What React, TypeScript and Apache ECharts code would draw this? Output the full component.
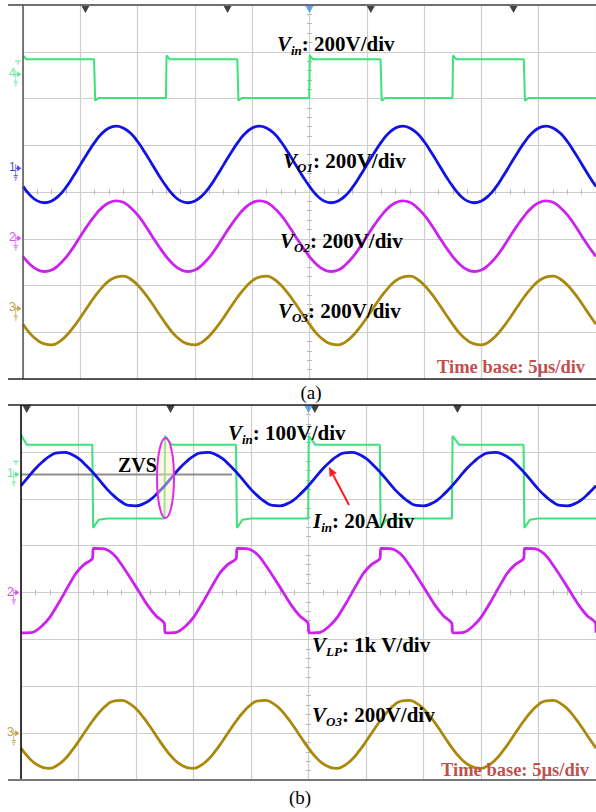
import React, { useEffect, useRef } from 'react';
import * as echarts from 'echarts';

// ---------- DATA (screen divisions: x -5..5, y -4..4) ----------
const T = [
  -5, -4.875, -4.75, -4.625, -4.5, -4.375, -4.25, -4.125, -4, -3.875, -3.75, -3.625, -3.5, -3.375, -3.25, -3.125,
  -3, -2.875, -2.75, -2.625, -2.5, -2.375, -2.25, -2.125, -2, -1.875, -1.75, -1.625, -1.5, -1.375, -1.25, -1.125,
  -1, -0.875, -0.75, -0.625, -0.5, -0.375, -0.25, -0.125, 0, 0.125, 0.25, 0.375, 0.5, 0.625, 0.75, 0.875,
  1, 1.125, 1.25, 1.375, 1.5, 1.625, 1.75, 1.875, 2, 2.125, 2.25, 2.375, 2.5, 2.625, 2.75, 2.875,
  3, 3.125, 3.25, 3.375, 3.5, 3.625, 3.75, 3.875, 4, 4.125, 4.25, 4.375, 4.5, 4.625, 4.75, 4.875, 5,
];

// panel (a)
const VIN_A = [
  [-5, 2.92], [-4.94, 2.84], [-3.76, 2.84], [-3.74, 1.95], [-3.68, 2.01], [-2.505, 2.01], [-2.495, 2.92], [-2.44, 2.84],
  [-1.26, 2.84], [-1.24, 1.95], [-1.18, 2.01], [-0.005, 2.01], [0.005, 2.92], [0.06, 2.84], [1.24, 2.84], [1.26, 1.95],
  [1.32, 2.01], [2.495, 2.01], [2.505, 2.92], [2.56, 2.84], [3.74, 2.84], [3.76, 1.95], [3.82, 2.01], [5, 2.01],
];
const VO1_A = [
  0.12, -0.07, -0.19, -0.23, -0.19, -0.08, 0.10, 0.33, 0.58, 0.83, 1.06, 1.25, 1.37, 1.41, 1.37, 1.26, 1.08, 0.85, 0.60, 0.35,
  0.12, -0.07, -0.19, -0.23, -0.19, -0.08, 0.10, 0.33, 0.58, 0.83, 1.06, 1.25, 1.37, 1.41, 1.37, 1.26, 1.08, 0.85, 0.60, 0.35,
  0.12, -0.07, -0.19, -0.23, -0.19, -0.08, 0.10, 0.33, 0.58, 0.83, 1.06, 1.25, 1.37, 1.41, 1.37, 1.26, 1.08, 0.85, 0.60, 0.35,
  0.12, -0.07, -0.19, -0.23, -0.19, -0.08, 0.10, 0.33, 0.58, 0.83, 1.06, 1.25, 1.37, 1.41, 1.37, 1.26, 1.08, 0.85, 0.60, 0.35,
  0.12,
];
const VO2_A = [
  -1.38, -1.55, -1.66, -1.70, -1.67, -1.56, -1.40, -1.19, -0.95, -0.72, -0.51, -0.34, -0.23, -0.19, -0.22, -0.33, -0.49, -0.70, -0.94, -1.17,
  -1.38, -1.55, -1.66, -1.70, -1.67, -1.56, -1.40, -1.19, -0.95, -0.72, -0.51, -0.34, -0.23, -0.19, -0.22, -0.33, -0.49, -0.70, -0.94, -1.17,
  -1.38, -1.55, -1.66, -1.70, -1.67, -1.56, -1.40, -1.19, -0.95, -0.72, -0.51, -0.34, -0.23, -0.19, -0.22, -0.33, -0.49, -0.70, -0.94, -1.17,
  -1.38, -1.55, -1.66, -1.70, -1.67, -1.56, -1.40, -1.19, -0.95, -0.72, -0.51, -0.34, -0.23, -0.19, -0.22, -0.33, -0.49, -0.70, -0.94, -1.17,
  -1.38,
];
const VO3_A = [
  -2.83, -3.03, -3.17, -3.25, -3.27, -3.21, -3.08, -2.90, -2.69, -2.46, -2.24, -2.05, -1.90, -1.82, -1.80, -1.86, -1.99, -2.17, -2.38, -2.61,
  -2.83, -3.03, -3.17, -3.25, -3.27, -3.21, -3.08, -2.90, -2.69, -2.46, -2.24, -2.05, -1.90, -1.82, -1.80, -1.86, -1.99, -2.17, -2.38, -2.61,
  -2.83, -3.03, -3.17, -3.25, -3.27, -3.21, -3.08, -2.90, -2.69, -2.46, -2.24, -2.05, -1.90, -1.82, -1.80, -1.86, -1.99, -2.17, -2.38, -2.61,
  -2.83, -3.03, -3.17, -3.25, -3.27, -3.21, -3.08, -2.90, -2.69, -2.46, -2.24, -2.05, -1.90, -1.82, -1.80, -1.86, -1.99, -2.17, -2.38, -2.61,
  -2.83,
];
const TRIG_A = [-3.91, -1.43, 1.07, 3.56];
const CH_A_NAMES = ['4', '1', '2', '3'];
const CH_A_LEVELS = [2.52, 0.51, -0.99, -2.49];

// panel (b)
const VIN_B = [
  [-5, 3.36], [-4.9, 3.15], [-3.76, 3.15], [-3.745, 1.38], [-3.65, 1.55], [-3.5, 1.58], [-2.505, 1.58], [-2.495, 3.34], [-2.38, 3.15],
  [-1.26, 3.15], [-1.245, 1.38], [-1.15, 1.55], [-1.0, 1.58], [-0.005, 1.58], [0.005, 3.34], [0.12, 3.15], [1.24, 3.15],
  [1.255, 1.38], [1.35, 1.55], [1.5, 1.58], [2.495, 1.58], [2.505, 3.34], [2.62, 3.15], [3.74, 3.15], [3.755, 1.38],
  [3.85, 1.55], [4.0, 1.58], [5, 1.58],
];
const REF_B = [[-5, 2.52], [-1.33, 2.52]];
const IIN_B = [
  2.28, 2.46, 2.64, 2.79, 2.91, 2.98, 2.99, 2.95, 2.86, 2.72, 2.56, 2.38, 2.20, 2.05, 1.93, 1.86, 1.85, 1.89, 1.98, 2.12,
  2.28, 2.46, 2.64, 2.79, 2.91, 2.98, 2.99, 2.95, 2.86, 2.72, 2.56, 2.38, 2.20, 2.05, 1.93, 1.86, 1.85, 1.89, 1.98, 2.12,
  2.28, 2.46, 2.64, 2.79, 2.91, 2.98, 2.99, 2.95, 2.86, 2.72, 2.56, 2.38, 2.20, 2.05, 1.93, 1.86, 1.85, 1.89, 1.98, 2.12,
  2.28, 2.46, 2.64, 2.79, 2.91, 2.98, 2.99, 2.95, 2.86, 2.72, 2.56, 2.38, 2.20, 2.05, 1.93, 1.86, 1.85, 1.89, 1.98, 2.12,
  2.28,
];
const VLP_B = [
  [-5.00, -0.86], [-4.80, -0.85], [-4.65, -0.73], [-4.50, -0.53], [-4.30, -0.13], [-4.05, 0.40], [-3.90, 0.60], [-3.76, 0.72], [-3.74, 0.94], [-3.55, 0.93], [-3.45, 0.87], [-3.35, 0.76], [-3.20, 0.50], [-3.00, 0.12], [-2.80, -0.27], [-2.65, -0.50], [-2.51, -0.65],
  [-2.49, -0.86], [-2.30, -0.85], [-2.15, -0.73], [-2.00, -0.53], [-1.80, -0.13], [-1.55, 0.40], [-1.40, 0.60], [-1.26, 0.72], [-1.24, 0.94], [-1.05, 0.93], [-0.95, 0.87], [-0.85, 0.76], [-0.70, 0.50], [-0.50, 0.12], [-0.30, -0.27], [-0.15, -0.50], [-0.01, -0.65],
  [0.01, -0.86], [0.20, -0.85], [0.35, -0.73], [0.50, -0.53], [0.70, -0.13], [0.95, 0.40], [1.10, 0.60], [1.24, 0.72], [1.26, 0.94], [1.45, 0.93], [1.55, 0.87], [1.65, 0.76], [1.80, 0.50], [2.00, 0.12], [2.20, -0.27], [2.35, -0.50], [2.49, -0.65],
  [2.51, -0.86], [2.70, -0.85], [2.85, -0.73], [3.00, -0.53], [3.20, -0.13], [3.45, 0.40], [3.60, 0.60], [3.74, 0.72], [3.76, 0.94], [3.95, 0.93], [4.05, 0.87], [4.15, 0.76], [4.30, 0.50], [4.50, 0.12], [4.70, -0.27], [4.85, -0.50], [4.99, -0.65], [5.00, -0.86],
];
const VO3_B = [
  -3.32, -3.51, -3.65, -3.73, -3.75, -3.69, -3.57, -3.39, -3.18, -2.95, -2.73, -2.54, -2.39, -2.31, -2.30, -2.36, -2.48, -2.66, -2.87, -3.10,
  -3.32, -3.51, -3.65, -3.73, -3.75, -3.69, -3.57, -3.39, -3.18, -2.95, -2.73, -2.54, -2.39, -2.31, -2.30, -2.36, -2.48, -2.66, -2.87, -3.10,
  -3.32, -3.51, -3.65, -3.73, -3.75, -3.69, -3.57, -3.39, -3.18, -2.95, -2.73, -2.54, -2.39, -2.31, -2.30, -2.36, -2.48, -2.66, -2.87, -3.10,
  -3.32, -3.51, -3.65, -3.73, -3.75, -3.69, -3.57, -3.39, -3.18, -2.95, -2.73, -2.54, -2.39, -2.31, -2.30, -2.36, -2.48, -2.66, -2.87, -3.10,
  -3.32,
];
const TRIG_B = [-4.90, -2.40, 0.11, 2.59];
const CH_B_NAMES = ['1', '2', '3'];
const CH_B_LEVELS = [2.52, 0.0, -3.0];

// ---------- STYLE ----------
const GREEN = '#3be37a';
const BLUE = '#1212e2';
const MAGENTA = '#cc22ee';
const OLIVE = '#aa880c';
const GRAYREF = '#8e8e8e';
const TRIGBLUE = '#3a8fe6';
const SERIF = '"Liberation Serif", "Times New Roman", serif';
const SANS = '"Liberation Sans", Arial, sans-serif';

const MARKER_PATH = 'path://M5 1 L11 4 L5 7 Z M2.5 0 H3.5 V11 H2.5 Z M3.5 3.5 H5 V4.5 H3.5 Z M0 11 H6 V12 H0 Z M1 13 H5 V14 H1 Z M2 15 H4 V16 H2 Z';
const T_PATH = 'path://M0 0 H6 V1 H0 Z M2.5 1 H3.5 V5 H2.5 Z';

const RICH = {
  v: { fontFamily: SERIF, fontSize: 21, fontWeight: 'bold', fontStyle: 'italic', lineHeight: 26, fill: '#000' },
  s: { fontFamily: SERIF, fontSize: 13, fontWeight: 'bold', fontStyle: 'italic', lineHeight: 13, verticalAlign: 'bottom', fill: '#000' },
  t: { fontFamily: SERIF, fontSize: 21, fontWeight: 'bold', lineHeight: 26, fill: '#000' },
};

function axesFor(g: number, dim: 'x' | 'y') {
  const isX = dim === 'x';
  const range = isX ? { min: -5, max: 5 } : { min: -4, max: 4 };
  const main = {
    type: 'value', gridIndex: g, ...range, interval: 1,
    axisLine: { show: false }, axisTick: { show: false }, axisLabel: { show: false },
    splitLine: { show: true, lineStyle: { color: '#cdcdcd', width: 1.2 } },
  };
  const minor = (inside: boolean) => ({
    type: 'value', gridIndex: g, ...range, interval: 1,
    position: isX ? 'bottom' : 'left',
    axisLine: { show: false, onZero: true },
    axisTick: { show: false, inside },
    minorTick: { show: true, splitNumber: isX ? 4 : 5, length: 2.5, lineStyle: { color: '#b8b8b8', width: 1 } },
    axisLabel: { show: false }, splitLine: { show: false },
  });
  return [main, minor(false), minor(true)];
}

function lineSeries(xi: number, data: any[], color: string, width: number, smooth: number | boolean) {
  return {
    type: 'line', xAxisIndex: xi, yAxisIndex: xi, data, showSymbol: false, symbol: 'none',
    smooth, lineStyle: { color, width }, silent: true, z: 3,
  };
}

function trigSeries(xi: number, xs: number[], color: string) {
  return {
    type: 'scatter', xAxisIndex: xi, yAxisIndex: xi, clip: false, silent: true, z: 6,
    symbol: 'triangle', symbolRotate: 180, symbolSize: [9, 8], symbolOffset: [0, 4],
    itemStyle: { color }, data: xs.map((x) => [x, 4]),
  };
}

function chanSeries(xi: number, names: string[], levels: number[], colors: string[]) {
  return {
    type: 'scatter', xAxisIndex: xi, yAxisIndex: xi, clip: false, silent: true, z: 6,
    symbol: MARKER_PATH, symbolSize: [11, 16], symbolKeepAspect: true, symbolOffset: [-5.5, 4],
    data: levels.map((lv, i) => ({
      value: [-5, lv],
      itemStyle: { color: colors[i] },
      label: {
        show: true, formatter: names[i], position: [-1.5, 3], align: 'center', verticalAlign: 'middle',
        color: colors[i], fontSize: 12, fontFamily: SANS,
      },
    })),
  };
}

function tSeries(xi: number, level: number) {
  return {
    type: 'scatter', xAxisIndex: xi, yAxisIndex: xi, clip: false, silent: true, z: 6,
    symbol: T_PATH, symbolSize: [6, 5], symbolKeepAspect: true, symbolOffset: [-5, -11.5],
    itemStyle: { color: GREEN }, data: [[-5, level]],
  };
}

function richText(x: number, y: number, text: string) {
  return { type: 'text', x, y, z: 100, style: { text, rich: RICH, align: 'left', verticalAlign: 'middle' } };
}
function plainText(x: number, y: number, text: string, size: number, color: string, weight: string, align = 'left') {
  return {
    type: 'text', x, y, z: 100,
    style: { text, fill: color, fontSize: size, fontWeight: weight, fontFamily: SERIF, align, verticalAlign: 'middle' },
  };
}
function hline(x1: number, y: number, x2: number, color: string, w: number) {
  return { type: 'line', z: 50, shape: { x1, y1: y, x2, y2: y }, style: { stroke: color, lineWidth: w } };
}
function vline(x: number, y1: number, y2: number, color: string, w: number) {
  return { type: 'line', z: 50, shape: { x1: x, y1, x2: x, y2 }, style: { stroke: color, lineWidth: w } };
}

export default function App() {
  const ref = useRef<HTMLDivElement>(null);
  useEffect(() => {
    if (!ref.current) return;
    const chart = echarts.init(ref.current, null, { renderer: 'svg' });
    const zipT = (vals: number[]) => T.map((t, i) => [t, vals[i]]);
    const option: any = {
      animation: false,
      backgroundColor: '#ffffff',
      grid: [
        { left: 23, top: 5, width: 577, height: 374 },
        { left: 21, top: 405, width: 577, height: 375 },
      ],
      xAxis: [...axesFor(0, 'x'), ...axesFor(1, 'x')],
      yAxis: [...axesFor(0, 'y'), ...axesFor(1, 'y')],
      series: [
        lineSeries(0, VIN_A, GREEN, 2, false),
        lineSeries(0, zipT(VO1_A), BLUE, 2.8, true),
        lineSeries(0, zipT(VO2_A), MAGENTA, 2.8, true),
        lineSeries(0, zipT(VO3_A), OLIVE, 2.8, true),
        trigSeries(0, TRIG_A, '#111'),
        trigSeries(0, [0], TRIGBLUE),
        chanSeries(0, CH_A_NAMES, CH_A_LEVELS, [GREEN, BLUE, MAGENTA, OLIVE]),
        tSeries(0, CH_A_LEVELS[0]),

        lineSeries(3, VIN_B, GREEN, 2, false),
        lineSeries(3, REF_B, GRAYREF, 2, false),
        lineSeries(3, zipT(IIN_B), BLUE, 2.8, true),
        lineSeries(3, VLP_B, MAGENTA, 2.8, 0.25),
        lineSeries(3, zipT(VO3_B), OLIVE, 2.8, true),
        trigSeries(3, TRIG_B, '#111'),
        trigSeries(3, [0], TRIGBLUE),
        chanSeries(3, CH_B_NAMES, CH_B_LEVELS, [GREEN, MAGENTA, OLIVE]),
        tSeries(3, CH_B_LEVELS[0]),
      ],
      graphic: [
        // frames
        hline(8, 5, 596, '#6f6f6f', 2),
        vline(23, 5, 379, '#555', 1.5),
        hline(8, 379, 596, '#222', 1.5),
        hline(8, 405, 596, '#222', 1.5),
        vline(21, 405, 780, '#000', 1.5),
        hline(8, 780, 596, '#777', 2),
        // panel (a) labels
        richText(277, 44, '{v|V}{s|in}{t|: 200V/div}'),
        richText(283, 161, '{v|V}{s|O1}{t|: 200V/div}'),
        richText(280, 241, '{v|V}{s|O2}{t|: 200V/div}'),
        richText(278, 311, '{v|V}{s|O3}{t|: 200V/div}'),
        plainText(437, 367, 'Time base: 5µs/div', 18.5, '#c0504d', 'bold'),
        plainText(311, 392, '(a)', 19, '#000', 'normal', 'center'),
        // panel (b) labels
        richText(228, 433, '{v|V}{s|in}{t|: 100V/div}'),
        plainText(118, 465, 'ZVS', 20, '#000', 'bold'),
        richText(313, 521, '{v|I}{s|in}{t|: 20A/div}'),
        richText(312, 645, '{v|V}{s|LP}{t|: 1k V/div}'),
        richText(312, 715, '{v|V}{s|O3}{t|: 200V/div}'),
        plainText(441, 770, 'Time base: 5µs/div', 18.5, '#c0504d', 'bold'),
        plainText(300, 797, '(b)', 19, '#000', 'normal', 'center'),
        // ZVS ellipse
        {
          type: 'ellipse', z: 100, shape: { cx: 165.5, cy: 478, rx: 8.5, ry: 40 },
          style: { fill: 'rgba(255,238,190,0.45)', stroke: '#e22ae8', lineWidth: 2 },
        },
        // arrow to Iin
        { type: 'line', z: 100, shape: { x1: 349, y1: 505, x2: 333.2, y2: 475 }, style: { stroke: '#ff1a1a', lineWidth: 2 } },
        { type: 'polygon', z: 100, shape: { points: [[329, 467], [336.7, 473.1], [329.7, 476.9]] }, style: { fill: '#ff1a1a' } },
      ],
    };
    chart.setOption(option);
    return () => chart.dispose();
  }, []);
  return <div ref={ref} style={{ position: 'absolute', left: 0, top: 0, width: 596, height: 812 }} />;
}
